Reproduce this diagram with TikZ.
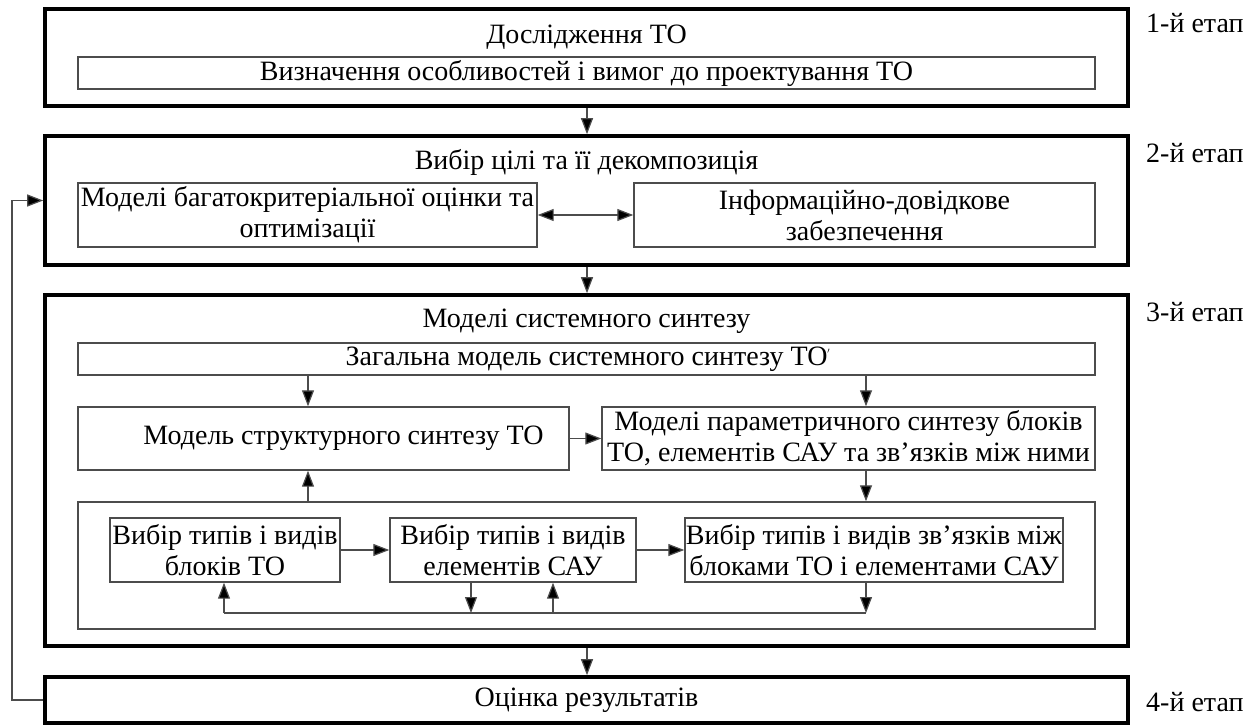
\documentclass[tikz,border=0pt]{standalone}
\usepackage{fontspec}
\setmainfont{Liberation Serif}
\usetikzlibrary{arrows.meta}
\begin{document}
\begin{tikzpicture}[x=1pt,y=-1pt,
  every node/.style={inner sep=0pt, font=\fontsize{28}{31}\selectfont},
  stagebox/.style={draw=black, line width=3.6pt, rectangle, minimum width=1083pt},
  innerbox/.style={draw=black!70, line width=1.4pt, rectangle, align=center},
  conn/.style={draw=black!70, line width=1.2pt, -{Triangle[length=16pt,width=12pt,fill=black]}},
  dconn/.style={draw=black!70, line width=1.2pt, {Triangle[length=16pt,width=12pt,fill=black]}-{Triangle[length=16pt,width=12pt,fill=black]}},
  plain/.style={draw=black!70, line width=1.2pt},
  stagelabel/.style={anchor=west}]
\useasboundingbox (0,0) rectangle (1258,728);

% ---- stage 1 ----
\node[stagebox, minimum height=97pt] (s1) at (586.5,57.5) {};
\node (s1t) at (586.5,37) {Дослідження ТО};
\node[innerbox, minimum width=1017pt, minimum height=32pt] (req) at (586.5,73) {Визначення особливостей і вимог до проектування ТО};

% ---- stage 2 ----
\node[stagebox, minimum height=129pt] (s2) at (586.5,200.5) {};
\node (s2t) at (586.5,162) {Вибір цілі та її декомпозиція};
\node[innerbox, minimum width=459pt, minimum height=64pt] (mco) at (307.5,215) {Моделі багатокритеріальної оцінки та\\оптимізації};
\node[innerbox, minimum width=461pt, minimum height=64pt] (inf) at (864.5,215) {Інформаційно-довідкове\\забезпечення};

% ---- stage 3 ----
\node[stagebox, minimum height=351pt] (s3) at (586.5,470.5) {};
\node (s3t) at (586.5,321) {Моделі системного синтезу};
\node[innerbox, minimum width=1017pt, minimum height=32pt] (gen) at (586.5,359) {Загальна модель системного синтезу ТО\rlap{\raisebox{0.6ex}{\fontsize{12}{12}\selectfont$'$}}};
\node[innerbox, minimum width=491pt, minimum height=63pt] (str) at (323.5,438.5) {\hspace*{40pt}Модель структурного синтезу ТО};
\node[innerbox, minimum width=493pt, minimum height=63pt] (par) at (848.5,438.5) {Моделі параметричного синтезу блоків\\ТО, елементів САУ та зв’язків між ними};
\node[innerbox, minimum width=1017pt, minimum height=127pt] (low) at (586.5,565.5) {};
\node[innerbox, minimum width=230pt, minimum height=64pt] (bA) at (225,550) {Вибір типів і видів\\блоків ТО};
\node[innerbox, minimum width=246pt, minimum height=64pt] (bB) at (513,550) {Вибір типів і видів\\елементів САУ};
\node[innerbox, minimum width=378pt, minimum height=64pt] (bC) at (874,550) {Вибір типів і видів зв’язків між\\блоками ТО і елементами САУ};

% ---- stage 4 ----
\node[stagebox, minimum height=46pt] (s4) at (586.5,700) {Оцінка результатів};

% ---- stage labels ----
\node[stagelabel] (l1) at (1146,23) {1-й етап};
\node[stagelabel] (l2) at (1146,153) {2-й етап};
\node[stagelabel] (l3) at (1146,312) {3-й етап};
\node[stagelabel] (l4) at (1146,702) {4-й етап};

% ---- reference verticals ----
\coordinate (xm) at (587,0);
\coordinate (xl) at (308,0);
\coordinate (xr) at (866,0);
\coordinate (xa) at (224,0);
\coordinate (xb1) at (471,0);
\coordinate (xb2) at (553,0);
\coordinate (bus) at (0,613);
\coordinate (fb) at (12,0);

% ---- stage flow ----
\draw[conn] (s1.south -| xm) -- (s2.north -| xm);
\draw[conn] (s2.south -| xm) -- (s3.north -| xm);
\draw[conn] (s3.south -| xm) -- (s4.north -| xm);
\draw[dconn] (mco.east) -- (inf.west);

% ---- system synthesis links ----
\draw[conn] (gen.south -| xl) -- (str.north -| xl);
\draw[conn] (gen.south -| xr) -- (par.north -| xr);
\draw[conn] (str.east) -- (par.west);
\draw[conn] (par.south -| xr) -- (low.north -| xr);
\draw[conn] (low.north -| xl) -- (str.south -| xl);

% ---- selection loop ----
\draw[conn] (bA.east) -- (bB.west);
\draw[conn] (bB.east) -- (bC.west);
\draw[plain] (bus -| xa) -- (bus -| xr);
\draw[conn] (bC.south -| xr) -- (bus -| xr);
\draw[conn] (bB.south -| xb1) -- (bus -| xb1);
\draw[conn] (bus -| xb2) -- (bB.south -| xb2);
\draw[conn] (bus -| xa) -- (bA.south -| xa);

% ---- feedback ----
\draw[conn] (s4.west) -- (s4.west -| fb) -- (s2.west -| fb) -- (s2.west);
\end{tikzpicture}
\end{document}
